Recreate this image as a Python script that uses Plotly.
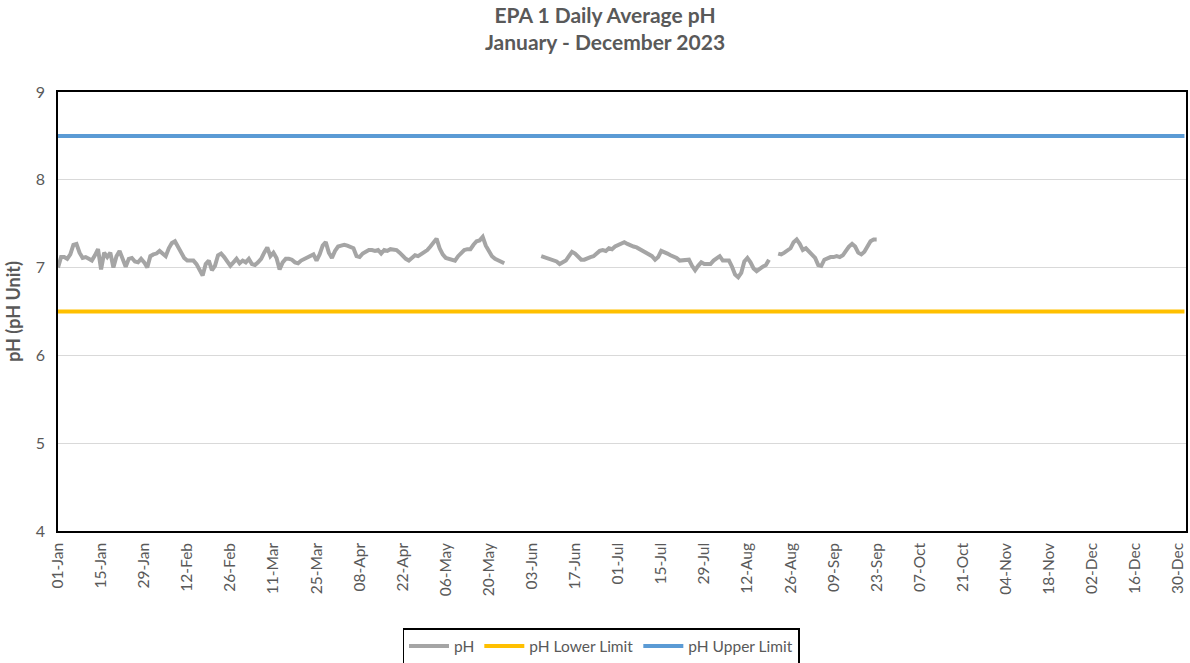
import plotly.graph_objects as go

# ---- data ----
tick_labels = ["01-Jan", "15-Jan", "29-Jan", "12-Feb", "26-Feb", "11-Mar", "25-Mar",
               "08-Apr", "22-Apr", "06-May", "20-May", "03-Jun", "17-Jun", "01-Jul",
               "15-Jul", "29-Jul", "12-Aug", "26-Aug", "09-Sep", "23-Sep", "07-Oct",
               "21-Oct", "04-Nov", "18-Nov", "02-Dec", "16-Dec", "30-Dec"]
tick_step = 14
n_days = 367

ph_part1 = [
    7.00, 7.12, 7.12, 7.10, 7.15, 7.26, 7.27, 7.17, 7.11, 7.12,
    7.10, 7.08, 7.14, 7.21, 6.98, 7.17, 7.12, 7.17, 7.00, 7.13,
    7.19, 7.11, 7.01, 7.10, 7.11, 7.07, 7.06, 7.10, 7.06, 7.00,
    7.13, 7.15, 7.16, 7.19, 7.16, 7.13, 7.22, 7.28, 7.30, 7.23,
    7.16, 7.11, 7.08, 7.08, 7.08, 7.04, 6.98, 6.91, 7.04, 7.08,
    6.97, 7.02, 7.14, 7.16, 7.12,
    7.06, 7.02, 7.06, 7.10, 7.05, 7.08, 7.06, 7.10, 7.04, 7.03,
    7.06, 7.10, 7.17, 7.23, 7.13, 7.17, 7.11, 6.98, 7.06, 7.10,
    7.10, 7.09, 7.06, 7.05, 7.08, 7.10, 7.11, 7.13, 7.15, 7.08,
    7.15, 7.25, 7.29, 7.17, 7.11, 7.19, 7.24, 7.25, 7.26, 7.25,
    7.24, 7.22, 7.13, 7.12, 7.16, 7.18, 7.20, 7.20, 7.19, 7.20,
    7.16, 7.20, 7.19, 7.21,
    7.20, 7.20, 7.17, 7.13, 7.10, 7.08, 7.11, 7.14, 7.13, 7.15,
    7.18, 7.20, 7.24, 7.29, 7.33, 7.22, 7.15, 7.11, 7.10, 7.10,
    7.08, 7.13, 7.17, 7.20, 7.21, 7.21, 7.26, 7.30, 7.31, 7.35,
    7.25, 7.18, 7.13, 7.10, 7.08, 7.07, 7.05,
]
gap1 = [None] * 11
ph_part2 = [
    7.13, 7.12, 7.11, 7.10, 7.09, 7.07, 7.04, 7.06, 7.08, 7.13,
    7.18, 7.16, 7.12, 7.09, 7.09, 7.11, 7.12, 7.13, 7.16, 7.19,
    7.20, 7.19, 7.22, 7.21, 7.24, 7.26, 7.28, 7.29, 7.27, 7.25,
    7.24, 7.23, 7.21, 7.18, 7.16, 7.15, 7.13, 7.09, 7.12, 7.19,
    7.18, 7.16, 7.14, 7.13, 7.11, 7.08, 7.08, 7.08, 7.09, 7.02,
    6.97, 7.02, 7.06, 7.04,
    7.04, 7.04, 7.08, 7.10, 7.13, 7.08, 7.08, 7.08, 7.01, 6.92,
    6.89, 6.94, 7.07, 7.11, 7.06, 6.99, 6.96, 6.99, 7.01, 7.03, 7.09,
]
gap2 = [None] * 2
ph_part3 = [
    7.16, 7.15, 7.17, 7.20, 7.22, 7.29, 7.32, 7.27, 7.20, 7.22,
    7.18, 7.14, 7.11, 7.03, 7.02, 7.09, 7.11, 7.12, 7.12, 7.13,
    7.12, 7.14, 7.19, 7.24, 7.27, 7.24, 7.17, 7.15, 7.18, 7.25,
    7.30, 7.32, 7.32,
]
ph_values = ph_part1 + gap1 + ph_part2 + gap2 + ph_part3
lower_limit = 6.5
upper_limit = 8.5

# ---- figure ----
x_ph = list(range(len(ph_values)))
x_all = list(range(n_days))
tick_vals = [i * tick_step for i in range(len(tick_labels))]

txt = "#595959"
font_family = "Lato, 'Open Sans', sans-serif"

fig = go.Figure()
fig.add_trace(go.Scatter(x=x_ph, y=ph_values, mode="lines", name="pH",
                         line=dict(color="#A5A5A5", width=4), connectgaps=False))
fig.add_trace(go.Scatter(x=x_all, y=[lower_limit] * n_days, mode="lines",
                         name="pH Lower Limit", line=dict(color="#FFC000", width=4)))
fig.add_trace(go.Scatter(x=x_all, y=[upper_limit] * n_days, mode="lines",
                         name="pH Upper Limit", line=dict(color="#5B9BD5", width=4)))

W, H = 1190, 663
L, R, T, B = 58, 4, 92, 132
pw, ph = W - L - R, H - T - B
fig.update_layout(
    width=W, height=H,
    margin=dict(l=L, r=R, t=T, b=B, autoexpand=False),
    paper_bgcolor="white", plot_bgcolor="white",
    font=dict(family=font_family, color=txt, size=15),
    title=dict(text="<b>EPA 1 Daily Average pH<br>January - December 2023</b>",
               x=605 / W, xanchor="center", yref="container", y=0.966, yanchor="top",
               font=dict(size=21, color=txt)),
    showlegend=True,
    legend=dict(orientation="h", x=(601 - L) / pw, xanchor="center",
                y=-(628 - (T + ph)) / ph, yanchor="top", bordercolor="#000000",
                borderwidth=1.5, font=dict(size=15.5, color=txt), itemwidth=40,
                traceorder="normal", tracegroupgap=0),
)
fig.update_xaxes(
    range=[0, n_days - 1 + 0.5], tickmode="array", tickvals=tick_vals, ticktext=tick_labels,
    tickangle=-90, tickfont=dict(size=15.5, color=txt), showgrid=False, zeroline=False,
    showline=True, linecolor="#000000", linewidth=1.5, mirror=True, ticks="",
    automargin=False, ticklabelstandoff=4,
)
fig.update_yaxes(
    range=[4, 9], dtick=1, tickfont=dict(size=16, color=txt), ticklabelstandoff=8,
    showgrid=True, gridcolor="#D9D9D9", gridwidth=1, zeroline=False,
    showline=True, linecolor="#000000", linewidth=1.5, mirror=True, ticks="",
    automargin=False,
    title=dict(text="<b>pH (pH Unit)</b>", font=dict(size=18, color=txt), standoff=10),
)

fig.write_html("out.html", config={"displayModeBar": False},
               post_script="document.body.style.margin='0px';document.body.style.overflow='hidden';")
